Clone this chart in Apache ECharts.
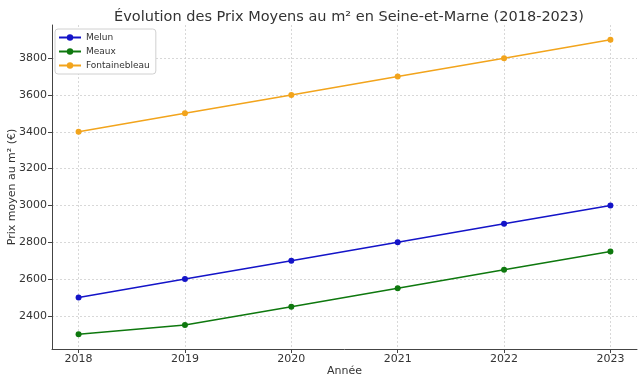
<!DOCTYPE html>
<html><head><meta charset="utf-8">
<script src="https://cdn.jsdelivr.net/npm/echarts@6/dist/echarts.min.js"></script>
<style>html,body{margin:0;padding:0;background:#fff}#c{width:644px;height:384px}</style>
</head><body><div id="c"></div>
<script>
const years = [2018, 2019, 2020, 2021, 2022, 2023];
const melun = [2500, 2600, 2700, 2800, 2900, 3000];
const meaux = [2300, 2350, 2450, 2550, 2650, 2750];
const fontainebleau = [3400, 3500, 3600, 3700, 3800, 3900];
const yTicks = [2400, 2600, 2800, 3000, 3200, 3400, 3600, 3800];

const font = 'DejaVu Sans';
const chart = echarts.init(document.getElementById('c'), null, {renderer: 'canvas'});
function mk(name, data, color) {
  return {
    name: name, type: 'line', data: years.map((y, i) => [y, data[i]]),
    lineStyle: {color: color, width: 1.5}, itemStyle: {color: color},
    symbol: 'circle', symbolSize: 6, showSymbol: true, animation: false
  };
}
chart.setOption({
  animation: false,
  title: {text: 'Évolution des Prix Moyens au m² en Seine-et-Marne (2018-2023)', left: 344, textAlign: 'center', top: 5,
    textStyle: {fontFamily: font, fontSize: 14.5, fontWeight: 'normal', color: '#333'}},
  legend: {orient: 'vertical', left: 55, top: 29, itemWidth: 22, itemHeight: 8, itemGap: 5,
    padding: [4, 6, 4, 3], borderColor: '#d0d0d0', borderWidth: 1, borderRadius: 3, backgroundColor: '#fff',
    textStyle: {fontFamily: font, fontSize: 9, color: '#333'},
    data: ['Melun', 'Meaux', 'Fontainebleau']},
  grid: {left: 52, right: 7, top: 25, bottom: 35, containLabel: false, outerBoundsMode: 'none'},
  xAxis: {type: 'value', min: 2017.75, max: 2023.25,
    name: 'Année', nameLocation: 'middle', nameGap: 17, nameMoveOverlap: false,
    nameTextStyle: {fontFamily: font, fontSize: 11, color: '#333'},
    axisLine: {show: true, lineStyle: {color: '#444', width: 1}},
    axisTick: {show: true, customValues: years, length: 4, inside: false, lineStyle: {color: '#444'}},
    axisLabel: {customValues: years, fontFamily: font, fontSize: 11, color: '#333', margin: 5, formatter: v => String(v)},
    splitLine: {show: true, lineStyle: {color: '#cfcfcf', type: [2, 2], width: 0.8}}},
  yAxis: {type: 'value', min: 2220, max: 3980,
    name: 'Prix moyen au m² (€)', nameLocation: 'middle', nameGap: 34, nameMoveOverlap: false,
    nameTextStyle: {fontFamily: font, fontSize: 11, color: '#333'},
    axisLine: {show: true, lineStyle: {color: '#444', width: 1}},
    axisTick: {show: true, customValues: yTicks, length: 4, lineStyle: {color: '#444'}},
    axisLabel: {customValues: yTicks, fontFamily: font, fontSize: 11, color: '#333', margin: 5, formatter: v => String(v)},
    splitLine: {show: true, lineStyle: {color: '#cfcfcf', type: [2, 2], width: 0.8}}},
  series: [mk('Melun', melun, '#1414c8'), mk('Meaux', meaux, '#0e780e'), mk('Fontainebleau', fontainebleau, '#f2a41c')]
});
</script></body></html>
